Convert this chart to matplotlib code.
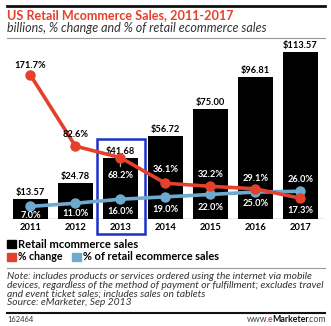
import matplotlib.pyplot as plt
from matplotlib.patches import Rectangle
from matplotlib.lines import Line2D

plt.rcParams['font.family'] = ['Lato', 'DejaVu Sans']

# data
years = ['2011', '2012', '2013', '2014', '2015', '2016', '2017']
sales = [13.57, 24.78, 41.68, 56.72, 75.00, 96.81, 113.57]
pct_change = [171.7, 82.6, 68.2, 36.1, 32.2, 29.1, 17.3]
pct_ecommerce = [7.0, 11.0, 16.0, 19.0, 22.0, 25.0, 26.0]

# label offsets in pixels (y up), tuned by eye
change_offsets = [10, 12, -18, 14, 12, 10, -12]
ecom_offsets = [-9, -10, -12, -13, -13, -11, 12]
change_white = [False, False, True, True, True, True, True]

RED = '#e5402b'
LBLUE = '#6eaace'
BOX = '#1d31c6'

W, H = 331, 326
fig = plt.figure(figsize=(W / 100, H / 100), dpi=100)
fig.canvas.draw()
R = fig.canvas.get_renderer()


def fx(px):
    return px / W


def fy(py):
    return 1 - py / H


def fit(t, width_px):
    # rescale a text so that it spans roughly width_px pixels
    for _ in range(2):
        w = t.get_window_extent(R).width
        t.set_fontsize(t.get_fontsize() * width_px / w)
    return t.get_fontsize()


ax = fig.add_axes([fx(8), fy(219), fx(325) - fx(8), fy(40) - fy(219)])
ax2 = ax.twinx()

x = list(range(len(years)))
bars = ax.bar(x, sales, width=0.78, color='black', zorder=2)
ax.set_xlim(-0.5, 6.55)
ax.set_ylim(0, 121.8)
ax2.set_ylim(-8.8, 215.8)

# font sizes measured against the reference widths
probe = fig.text(0, 0, '$113.57', fontsize=7, fontweight='bold')
fs_val = fit(probe, 35)
probe.set_text('171.7%')
fs_pct = fit(probe, 31)
probe.set_text('2011')
fs_year = fit(probe, 22)
probe.remove()

for b, v in zip(bars, sales):
    ax.annotate(f'${v:.2f}', (b.get_x() + b.get_width() / 2, v),
                xytext=(0, 2), textcoords='offset pixels',
                ha='center', va='bottom', fontsize=fs_val, fontweight='bold')

ax2.plot(x, pct_ecommerce, color=LBLUE, lw=2.6, marker='o', ms=6.5, zorder=3)
ax2.plot(x, pct_change, color=RED, lw=2.6, marker='o', ms=6.5, zorder=4)

for i, v in enumerate(pct_change):
    col = 'white' if change_white[i] else 'black'
    ax2.annotate(f'{v:.1f}%', (i, v), xytext=(0, change_offsets[i]),
                 textcoords='offset pixels', ha='center', va='center',
                 fontsize=fs_pct, fontweight='bold', color=col, zorder=5)
# little leader for the 2013 value
ax2.annotate('', (2, pct_change[2]), xytext=(0, -9), textcoords='offset pixels',
             arrowprops=dict(arrowstyle='-', color='#bbbbbb', lw=0.8,
                             shrinkA=0, shrinkB=4))

for i, v in enumerate(pct_ecommerce):
    ax2.annotate(f'{v:.1f}%', (i, v), xytext=(0, ecom_offsets[i]),
                 textcoords='offset pixels', ha='center', va='center',
                 fontsize=fs_pct, fontweight='bold', color='white', zorder=5)

ax.axhline(0, color='#999999', lw=1, zorder=1)
for a in (ax, ax2):
    for s in a.spines.values():
        s.set_visible(False)
    a.set_yticks([])
ax.set_xticks(x)
ax.set_xticklabels(years, fontsize=fs_year, fontweight='bold')
ax.tick_params(axis='x', length=0, pad=3)

# highlight box around 2013
hi = years.index('2013')
ax.add_patch(Rectangle((hi - 0.53, -10.2), 1.08, 64.6, fill=False,
                       edgecolor=BOX, lw=1.8, clip_on=False, zorder=6))

# header
fig.add_artist(Line2D([fx(7), fx(325)], [fy(6), fy(6)], color='#111111', lw=2))
t = fig.text(fx(7), fy(19), 'US Retail Mcommerce Sales, 2011-2017', color=RED,
             fontsize=9, fontweight='bold', va='baseline')
fit(t, 225)
t = fig.text(fx(7), fy(32), 'billions, % change and % of retail ecommerce sales',
             color='#333333', fontsize=8.5, style='italic', va='baseline')
fit(t, 260)
fig.add_artist(Line2D([fx(7), fx(325)], [fy(38), fy(38)], color='#999999', lw=0.8))


# legend
def legend_item(px, py, color, label, width_px):
    fig.add_artist(Rectangle((fx(px), fy(py + 4)), fx(9), 8.5 / H, color=color,
                             transform=fig.transFigure))
    t = fig.text(fx(px + 11), fy(py), label, fontsize=8, fontweight='bold',
                 va='center')
    fit(t, width_px)


legend_item(7, 244, 'black', 'Retail mcommerce sales', 119)
legend_item(7, 257, RED, '% change', 45)
legend_item(72, 257, LBLUE, '% of retail ecommerce sales', 137)

# footer
fig.add_artist(Line2D([fx(7), fx(325)], [fy(268), fy(268)], color='#999999', lw=0.8))
note = ('Note: includes products or services ordered using the internet via mobile\n'
        'devices, regardless of the method of payment or fulfillment; excludes travel\n'
        'and event ticket sales; includes sales on tablets\n'
        'Source: eMarketer, Sep 2013')
t = fig.text(fx(7), fy(272), note.split('\n')[1],
             fontsize=7.3, style='italic', color='#333333', va='top')
fs_note = fit(t, 316)
t.remove()
fig.text(fx(7), fy(272), note, fontsize=fs_note, style='italic', color='#333333',
         va='top', linespacing=0.95)
fig.add_artist(Line2D([fx(7), fx(325)], [fy(312.5), fy(312.5)], color='#111111', lw=1.5))
t = fig.text(fx(7), fy(319), '162464', fontsize=5.8, color='#333333', va='center')
fit(t, 26)

# www.eMarketer.com with the red e, pieced together left to right
parts = [fig.text(0, fy(319), 'www.', fontsize=6.3, color='#444444', va='center'),
         fig.text(0, fy(319), 'e', fontsize=6.3, color=RED, fontweight='bold',
                  va='center'),
         fig.text(0, fy(319), 'Marketer', fontsize=6.3, color='#111111',
                  fontweight='bold', va='center'),
         fig.text(0, fy(319), '.com', fontsize=6.3, color='#444444', va='center')]
widths = [p.get_window_extent(R).width - 1.0 for p in parts]
xl = 325 - sum(widths)
for p, w in zip(parts, widths):
    p.set_x(fx(xl))
    xl += w

fig.savefig('out.png', dpi=100)
